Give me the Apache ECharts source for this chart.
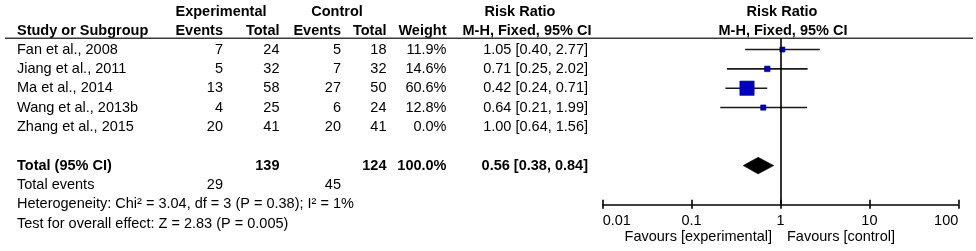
<!DOCTYPE html>
<html>
<head>
<meta charset="utf-8">
<script src="https://cdn.jsdelivr.net/npm/echarts@6/dist/echarts.min.js"></script>
<style>
html,body{margin:0;padding:0;background:#fff;}
#main{width:976px;height:251px;}
</style>
</head>
<body>
<div id="main"></div>
<script>
// ---------- data ----------
const studies = ['Fan et al., 2008', 'Jiang et al., 2011', 'Ma et al., 2014', 'Wang et al., 2013b', 'Zhang et al., 2015'];
const expEvents = [7, 5, 13, 4, 20];
const expTotal = [24, 32, 58, 25, 41];
const ctrlEvents = [5, 7, 27, 6, 20];
const ctrlTotal = [18, 32, 50, 24, 41];
const weights = [11.9, 14.6, 60.6, 12.8, 0.0];
const rr = [1.05, 0.71, 0.42, 0.64, 1.00];
const ciLow = [0.40, 0.25, 0.24, 0.21, 0.64];
const ciHigh = [2.77, 2.02, 0.71, 1.99, 1.56];

const totalLabel = 'Total (95% CI)';
const totalExp = 139;
const totalCtrl = 124;
const totalWeight = 100.0;
const totalRR = 0.56;
const totalLow = 0.38;
const totalHigh = 0.84;
const totalEventsExp = 29;
const totalEventsCtrl = 45;
const heterogeneityText = 'Heterogeneity: Chi² = 3.04, df = 3 (P = 0.38); I² = 1%';
const overallText = 'Test for overall effect: Z = 2.83 (P = 0.005)';

const tickValues = [0.01, 0.1, 1, 10, 100];
const tickLabels = ['0.01', '0.1', '1', '10', '100'];
const favoursLeft = 'Favours [experimental]';
const favoursRight = 'Favours [control]';

// ---------- layout / style ----------
const FONT = '"Liberation Sans", Arial, sans-serif';
const FS = 14.5;
const TOTAL_ROW = 6;
const colStudyX = 17;
const colExpEv = 223;
const colExpTot = 279.5;
const colCtrlEv = 341;
const colCtrlTot = 386.5;
const colWeight = 446.5;
const colRR = 588;
const squareColor = '#0000C0';

function fmtRR(v, l, h) { return v.toFixed(2) + ' [' + l.toFixed(2) + ', ' + h.toFixed(2) + ']'; }
function sizeFor(w) { return 2.8 + 0.19 * w; }

const studyIdx = studies.map((s, i) => i).filter(i => weights[i] > 0);

const option = {
  backgroundColor: '#fff',
  animation: false,
  grid: { left: 602.7, right: 17.7, top: 38.3, height: 166, containLabel: false },
  xAxis: [
    {
      type: 'log', logBase: 10, min: 0.01, max: 100, position: 'bottom',
      axisLine: { show: true, onZero: false, lineStyle: { color: '#000', width: 1.6 } },
      axisTick: { show: true, inside: false, length: 4.5, lineStyle: { color: '#000', width: 1.6 } },
      minorTick: { show: false },
      splitLine: { show: false },
      axisLabel: {
        show: true, margin: 9, color: '#000', fontSize: FS, fontFamily: FONT,
        alignMinLabel: 'left', alignMaxLabel: 'right',
        formatter: function (v) {
          const k = Math.round(Math.log10(v));
          const idx = tickValues.findIndex(t => Math.round(Math.log10(t)) === k);
          return idx >= 0 ? tickLabels[idx] : '';
        }
      }
    },
    {
      type: 'log', logBase: 10, min: 0.01, max: 100, position: 'bottom', offset: 0,
      axisLine: { show: false, onZero: false },
      axisTick: { show: true, inside: true, length: 4.5, lineStyle: { color: '#000', width: 1.6 } },
      minorTick: { show: false },
      splitLine: { show: false },
      axisLabel: { show: false }
    }
  ],
  yAxis: { type: 'value', inverse: true, min: -0.58, max: 8, show: false },
  series: [
    {
      type: 'custom', xAxisIndex: 0, yAxisIndex: 0,
      data: studyIdx.map(i => [ciLow[i], ciHigh[i], i]),
      renderItem: function (params, api) {
        const a = api.coord([api.value(0), api.value(2)]);
        const b = api.coord([api.value(1), api.value(2)]);
        return { type: 'line', shape: { x1: a[0], y1: a[1], x2: b[0], y2: b[1] },
                 style: { stroke: '#1a1a1a', lineWidth: 1.6 } };
      },
      markLine: {
        silent: true, symbol: 'none', label: { show: false },
        lineStyle: { color: '#000', width: 1.6, type: 'solid' },
        data: [{ xAxis: 1 }]
      },
      z: 2
    },
    {
      type: 'scatter', xAxisIndex: 0, yAxisIndex: 0, symbol: 'rect',
      data: studyIdx.map(i => ({ value: [rr[i], i], symbolSize: sizeFor(weights[i]) })),
      itemStyle: { color: squareColor, borderColor: '#00007a', borderWidth: 0.6, opacity: 1 },
      z: 3
    },
    {
      type: 'custom', xAxisIndex: 0, yAxisIndex: 0,
      data: [[totalLow, totalRR, totalHigh, TOTAL_ROW]],
      renderItem: function (params, api) {
        const l = api.coord([api.value(0), api.value(3)]);
        const c = api.coord([api.value(1), api.value(3)]);
        const h = api.coord([api.value(2), api.value(3)]);
        const hh = 8.3;
        return { type: 'polygon',
                 shape: { points: [[l[0], l[1]], [c[0], c[1] - hh], [h[0], h[1]], [c[0], c[1] + hh]] },
                 style: { fill: '#000', stroke: '#000', lineWidth: 0.5 } };
      },
      z: 3
    }
  ]
};

const chart = echarts.init(document.getElementById('main'));
chart.setOption(option);

const rowY = i => chart.convertToPixel({ yAxisIndex: 0 }, i);
const g = [];
function txt(t, x, y, align, bold) {
  g.push({ type: 'text', x: x, y: y, silent: true,
    style: { text: String(t), fill: '#000', fontSize: FS, fontFamily: FONT,
             fontWeight: bold ? 'bold' : 'normal', align: align, verticalAlign: 'middle' } });
}
const H1 = 12, H2 = 30.5;
// headers
txt('Experimental', 221, H1, 'center', true);
txt('Control', 337, H1, 'center', true);
txt('Risk Ratio', 520, H1, 'center', true);
txt('Risk Ratio', 782, H1, 'center', true);
txt('Study or Subgroup', colStudyX, H2, 'left', true);
txt('Events', colExpEv, H2, 'right', true);
txt('Total', colExpTot, H2, 'right', true);
txt('Events', colCtrlEv, H2, 'right', true);
txt('Total', colCtrlTot, H2, 'right', true);
txt('Weight', colWeight, H2, 'right', true);
txt('M-H, Fixed, 95% CI', 527, H2, 'center', true);
txt('M-H, Fixed, 95% CI', 783, H2, 'center', true);
// study rows
studies.forEach((s, i) => {
  const y = rowY(i);
  txt(s, colStudyX, y, 'left', false);
  txt(expEvents[i], colExpEv, y, 'right', false);
  txt(expTotal[i], colExpTot, y, 'right', false);
  txt(ctrlEvents[i], colCtrlEv, y, 'right', false);
  txt(ctrlTotal[i], colCtrlTot, y, 'right', false);
  txt(weights[i].toFixed(1) + '%', colWeight, y, 'right', false);
  txt(fmtRR(rr[i], ciLow[i], ciHigh[i]), colRR, y, 'right', false);
});
// total
const yt = rowY(TOTAL_ROW);
txt(totalLabel, colStudyX, yt, 'left', true);
txt(totalExp, colExpTot, yt, 'right', true);
txt(totalCtrl, colCtrlTot, yt, 'right', true);
txt(totalWeight.toFixed(1) + '%', colWeight, yt, 'right', true);
txt(fmtRR(totalRR, totalLow, totalHigh), colRR, yt, 'right', true);
const ye = rowY(TOTAL_ROW + 1);
txt('Total events', colStudyX, ye, 'left', false);
txt(totalEventsExp, colExpEv, ye, 'right', false);
txt(totalEventsCtrl, colCtrlEv, ye, 'right', false);
txt(heterogeneityText, colStudyX, rowY(TOTAL_ROW + 2), 'left', false);
txt(overallText, colStudyX, rowY(TOTAL_ROW + 3), 'left', false);
// favours
const x1 = chart.convertToPixel({ xAxisIndex: 0 }, 1);
txt(favoursLeft, x1 - 8.5, 237, 'right', false);
txt(favoursRight, x1 + 6.5, 237, 'left', false);
// header rule
g.push({ type: 'line', silent: true, shape: { x1: 5, y1: 38.3, x2: 973, y2: 38.3 },
         style: { stroke: '#3a3a3a', lineWidth: 1.6 } });
chart.setOption({ graphic: g });
</script>
</body>
</html>
